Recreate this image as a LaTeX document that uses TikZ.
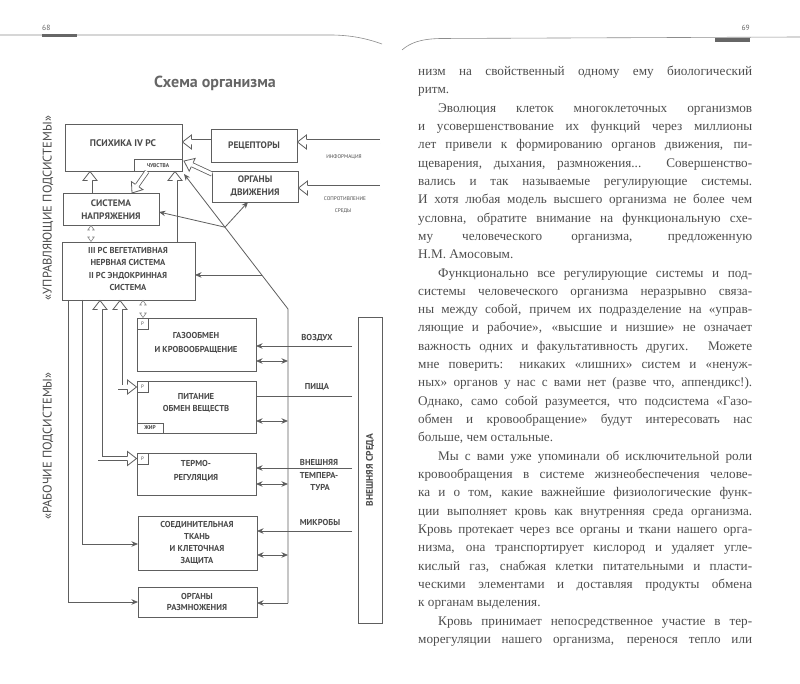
\documentclass[tikz,border=0pt]{standalone}
\usepackage{fontspec}
\setmainfont{Liberation Serif}
\newfontfamily\dsans{PT Sans}
\usetikzlibrary{arrows.meta,calc}
\definecolor{lc}{HTML}{5E5E5E}
\definecolor{tc}{HTML}{4A4A4A}
\definecolor{bodyc}{HTML}{4E4E4E}
% big hollow arrow head: #1 = a point behind the tip, #2 = tip
\newcommand{\hhead}[2]{%
  \fill[white] let \p1=($(#1)-(#2)$), \n1={atan2(\y1,\x1)} in
    ($(#2)+(\n1+37.9:11.4pt)$) -- (#2) -- ($(#2)+(\n1-37.9:11.4pt)$) -- cycle;
  \draw[lc,line width=0.8pt,line join=miter] let \p1=($(#1)-(#2)$), \n1={atan2(\y1,\x1)} in
    ($(#2)+(\n1+14.5:9.3pt)$) -- ($(#2)+(\n1+37.9:11.4pt)$) -- (#2) -- ($(#2)+(\n1-37.9:11.4pt)$) -- ($(#2)+(\n1-14.5:9.3pt)$);}
% small hollow arrow head
\newcommand{\shead}[2]{%
  \fill[white] let \p1=($(#1)-(#2)$), \n1={atan2(\y1,\x1)} in
    ($(#2)+(\n1+35.4:5.52pt)$) -- (#2) -- ($(#2)+(\n1-35.4:5.52pt)$) -- cycle;
  \draw[lc!75,line width=0.6pt,line join=miter] let \p1=($(#1)-(#2)$), \n1={atan2(\y1,\x1)} in
    ($(#2)+(\n1+14:4.65pt)$) -- ($(#2)+(\n1+35.4:5.52pt)$) -- (#2) -- ($(#2)+(\n1-35.4:5.52pt)$) -- ($(#2)+(\n1-14:4.65pt)$);}
\newcommand{\holar}[2]{\draw[hol] (#1) -- ($(#2)!9pt!(#1)$); \hhead{#1}{#2}}
\newcommand{\smdb}[2]{\draw[shol] ($(#1)!4.5pt!(#2)$) -- ($(#2)!4.5pt!(#1)$); \shead{#2}{#1}\shead{#1}{#2}}
% right page lines
\newcommand{\jline}[2]{\node[bt] (t#1) at (418,{75.5+18.32*(#1-1)}) {\makebox[334pt][s]{#2}};}
\newcommand{\jind}[2]{\node[bt] (t#1) at (438,{75.5+18.32*(#1-1)}) {\makebox[314pt][s]{#2}};}
\newcommand{\jlast}[2]{\node[bt] (t#1) at (418,{75.5+18.32*(#1-1)}) {#2};}
\begin{document}
\begin{tikzpicture}[x=1pt,y=-1pt,
  box/.style={draw=lc,line width=0.8pt,inner sep=0pt,outer sep=0pt,anchor=north west},
  btx/.style={font=\dsans\bfseries\fontsize{8.6}{#1}\selectfont,text=tc,align=center,inner sep=0pt},
  btx/.default=12.3,
  tiny/.style={font=\dsans\bfseries\fontsize{5.5}{6.5}\selectfont,text=tc,inner sep=0pt},
  ln/.style={draw=lc,line width=0.8pt},
  arr/.style={ln,-{Stealth[length=6.5pt,width=5.5pt]}},
  darr/.style={ln,{Stealth[length=6.5pt,width=5.5pt]}-{Stealth[length=6.5pt,width=5.5pt]}},
  hol/.style={draw=lc,line width=0.8pt,double=white,double distance=3.4pt,line join=miter},
  shol/.style={draw=lc!75,line width=0.6pt,double=white,double distance=1.5pt,line join=miter},
  bt/.style={font=\fontsize{13.2}{15}\selectfont,text=bodyc,inner sep=0pt,anchor=base west},
  vlab/.style={font=\dsans\fontsize{12.5}{14}\selectfont,text=tc,rotate=90,inner sep=0pt},
]
\useasboundingbox (0,0) rectangle (800,684);
\fill[white] (0,0) rectangle (800,684);

% ---------- headers ----------
\draw[black!45,line width=0.6pt] (0,35) -- (330,35) .. controls (352,35) and (368,39) .. (382,44);
\fill[black!60] (42,33.6) rectangle (77,37.2);
\node[font=\dsans\fontsize{7.5}{8}\selectfont,text=black!60,anchor=base west,inner sep=0pt] (p68) at (42,31) {68};
\draw[black!45,line width=0.6pt] (402,50) .. controls (410,43) and (420,39) .. (440,38.5) -- (800,37);
\fill[black!60] (715,38.5) rectangle (750,42);
\node[font=\dsans\fontsize{7.5}{8}\selectfont,text=black!60,anchor=base east,inner sep=0pt] (p69) at (750,31) {69};

% ---------- title ----------
\node[font=\dsans\bfseries\fontsize{16}{18}\selectfont,text=black!60,inner sep=0pt] (title) at (215,83) {Схема организма};

% ---------- side labels ----------
\node[vlab] (lupr) at (48,208) {«УПРАВЛЯЮЩИЕ ПОДСИСТЕМЫ»};
\node[vlab] (lrab) at (48,446) {«РАБОЧИЕ ПОДСИСТЕМЫ»};

% ---------- boxes ----------
\node[box,minimum width=117pt,minimum height=47pt] (psy) at (65,124) {};
\node[btx,font=\dsans\bfseries\fontsize{9.6}{11}\selectfont] (psyt) at (123,143) {ПСИХИКА IV РС};
\node[box,minimum width=48pt,minimum height=12pt] (chuv) at (134,159) {};
\node[tiny] (chuvt) at (158,165.5) {ЧУВСТВА};
\node[box,minimum width=86pt,minimum height=33pt] (rec) at (211,129) {};
\node[btx,font=\dsans\bfseries\fontsize{9.4}{11}\selectfont] (rect) at (254,145.5) {РЕЦЕПТОРЫ};
\node[box,minimum width=86pt,minimum height=31pt] (org) at (212,171) {};
\node[btx,font=\dsans\bfseries\fontsize{9.4}{13}\selectfont] (orgt) at (255,186.5) {ОРГАНЫ\\ДВИЖЕНИЯ};
\node[box,minimum width=96pt,minimum height=32pt] (nap) at (63,193) {};
\node[btx,font=\dsans\bfseries\fontsize{9.4}{13}\selectfont] (napt) at (111,209.5) {СИСТЕМА\\НАПРЯЖЕНИЯ};
\node[box,minimum width=133pt,minimum height=58pt] (veg) at (62,242) {};
\node[btx] (vegt) at (128,269) {III РС ВЕГЕТАТИВНАЯ\\НЕРВНАЯ СИСТЕМА\\II РС ЭНДОКРИННАЯ\\СИСТЕМА};

\node[box,minimum width=119pt,minimum height=53pt] (gas) at (137,318) {};
\node[btx=14] (gast) at (196,342.5) {ГАЗООБМЕН\\И КРОВООБРАЩЕНИЕ};
\node[box,minimum width=11pt,minimum height=11pt] (gasr) at (137,318) {};
\node[tiny,font=\dsans\fontsize{5}{6}\selectfont] (gasrt) at (142.5,323.5) {Р};

\node[box,minimum width=119pt,minimum height=52pt] (pit) at (137,381) {};
\node[btx=11.7] (pitt) at (196,403) {ПИТАНИЕ\\ОБМЕН ВЕЩЕСТВ};
\node[box,minimum width=11pt,minimum height=11pt] (pitr) at (137,381) {};
\node[tiny,font=\dsans\fontsize{5}{6}\selectfont] (pitrt) at (142.5,386.5) {Р};
\node[box,minimum width=26pt,minimum height=10pt] (zhir) at (137,423) {};
\node[tiny] (zhirt) at (150,428) {ЖИР};

\node[box,minimum width=119pt,minimum height=42pt] (term) at (137,453) {};
\node[btx=14] (termt) at (196,470.5) {ТЕРМО-\\РЕГУЛЯЦИЯ};
\node[box,minimum width=11pt,minimum height=11pt] (termr) at (137,453) {};
\node[tiny,font=\dsans\fontsize{5}{6}\selectfont] (termrt) at (142.5,458.5) {Р};

\node[box,minimum width=119pt,minimum height=54pt] (soed) at (138,516) {};
\node[btx] (soedt) at (197,543) {СОЕДИНИТЕЛЬНАЯ\\ТКАНЬ\\И КЛЕТОЧНАЯ\\ЗАЩИТА};
\node[box,minimum width=119pt,minimum height=30pt] (razm) at (138,587) {};
\node[btx=11.5] (razmt) at (197,602) {ОРГАНЫ\\РАЗМНОЖЕНИЯ};

\node[box,minimum width=24pt,minimum height=306pt] (env) at (358,317) {};
\node[btx,font=\dsans\bfseries\fontsize{9.5}{11}\selectfont,rotate=90] (envt) at (370,470) {ВНЕШНЯЯ СРЕДА};

% ---------- hollow arrows (upper part) ----------
\holar{211,142}{182.5,142}
\holar{212,174}{184,161}
\holar{90,193}{90,171.5}
\holar{147,171.5}{132,193}
\holar{175,242}{175,171.5}
\holar{380,142}{297.5,142}
\holar{380,188}{298.5,188}
\node[tiny,font=\dsans\fontsize{5.3}{6}\selectfont] (inf) at (344,157) {ИНФОРМАЦИЯ};
\node[tiny,font=\dsans\fontsize{5.3}{6}\selectfont] (sopr) at (345,199) {СОПРОТИВЛЕНИЕ};
\node[tiny,font=\dsans\fontsize{5.3}{6}\selectfont] (sred) at (343,211) {СРЕДЫ};

% small double hollow arrows
\smdb{91,225.5}{91,241.5}
\smdb{143,300.5}{143,317.5}

% L-shaped hollow arrows to the working subsystems
\draw[hol] (100,309) -- (100,458.5) -- (127.5,458.5);
\hhead{100,320}{100,300.5}
\hhead{120,458.5}{136.5,458.5}
\draw[hol] (120,309) -- (120,387) -- (127.5,387);
\hhead{120,320}{120,300.5}
\hhead{110,387}{136.5,387}

% ---------- bus ----------
\coordinate (btop) at (184,174);
\coordinate (bknee) at (288,309);
\coordinate (bbot) at (288,603);
\coordinate (J1) at ($(btop)!0.394!(bknee)$);
\coordinate (J2) at ($(btop)!0.748!(bknee)$);
\draw[ln,{Stealth[length=6.5pt,width=5.5pt]}-] (btop) -- (bknee) -- (bbot);
\draw[arr] (bbot) -- (razm.east |- bbot);
\draw[arr] (J1) -- ($(nap.east)+(0,3)$);
\draw[arr] (J1) -- ($(org.south)+(-7,0)$);
\draw[arr] (J2) -- (J2 -| veg.east);

% exchanges with the bus
\draw[darr] (256,361) -- (288,361);
\draw[darr] (256,421) -- (288,421);
\draw[darr] (256,484) -- (288,484);
\draw[darr] (257,555) -- (288,555);

% inputs from the environment
\draw[arr] (352,346) -- (gas.east |- 0,346);
\draw[ln] (352,396) -- (pit.east |- 0,396);
\draw[arr] (352,468) -- (term.east |- 0,468);
\draw[arr] (352,531) -- (soed.east |- 0,531);
\node[btx] (vozd) at (317,338) {ВОЗДУХ};
\node[btx] (pish) at (317,387.5) {ПИЩА};
\node[btx] (vnesh) at (319,462) {ВНЕШНЯЯ};
\node[btx] (temp) at (319,475) {ТЕМПЕРА-};
\node[btx] (tura) at (320,487) {ТУРА};
\node[btx] (mikr) at (320,522) {МИКРОБЫ};

% thin lines from the vegetative system
\draw[arr] ($(veg.south west)+(6,0)$) |- (razm.west);
\draw[arr] ($(veg.south west)+(20,0)$) |- (soed.west |- 0,544);

% ---------- right page text ----------
\jline{1}{низм на свойственный одному ему биологический}
\jlast{2}{ритм.}
\jind{3}{Эволюция клеток многоклеточных организмов}
\jline{4}{и усовершенствование их функций через миллионы}
\jline{5}{лет привели к формированию органов движения, пи-}
\jline{6}{щеварения, дыхания, размножения... Совершенство-}
\jline{7}{вались и так называемые регулирующие системы.}
\jline{8}{И хотя любая модель высшего организма не более чем}
\jline{9}{условна, обратите внимание на функциональную схе-}
\jline{10}{му человеческого организма, предложенную}
\jlast{11}{Н.М. Амосовым.}
\jind{12}{Функционально все регулирующие системы и под-}
\jline{13}{системы человеческого организма неразрывно связа-}
\jline{14}{ны между собой, причем их подразделение на «управ-}
\jline{15}{ляющие и рабочие», «высшие и низшие» не означает}
\jline{16}{важность одних и факультативность других. Можете}
\jline{17}{мне поверить: никаких «лишних» систем и «ненуж-}
\jline{18}{ных» органов у нас с вами нет (разве что, аппендикс!).}
\jline{19}{Однако, само собой разумеется, что подсистема «Газо-}
\jline{20}{обмен и кровообращение» будут интересовать нас}
\jlast{21}{больше, чем остальные.}
\jind{22}{Мы с вами уже упоминали об исключительной роли}
\jline{23}{кровообращения в системе жизнеобеспечения челове-}
\jline{24}{ка и о том, какие важнейшие физиологические функ-}
\jline{25}{ции выполняет кровь как внутренняя среда организма.}
\jline{26}{Кровь протекает через все органы и ткани нашего орга-}
\jline{27}{низма, она транспортирует кислород и удаляет угле-}
\jline{28}{кислый газ, снабжая клетки питательными и пласти-}
\jline{29}{ческими элементами и доставляя продукты обмена}
\jlast{30}{к органам выделения.}
\jind{31}{Кровь принимает непосредственное участие в тер-}
\jline{32}{морегуляции нашего организма, перенося тепло или}
\end{tikzpicture}
\end{document}
